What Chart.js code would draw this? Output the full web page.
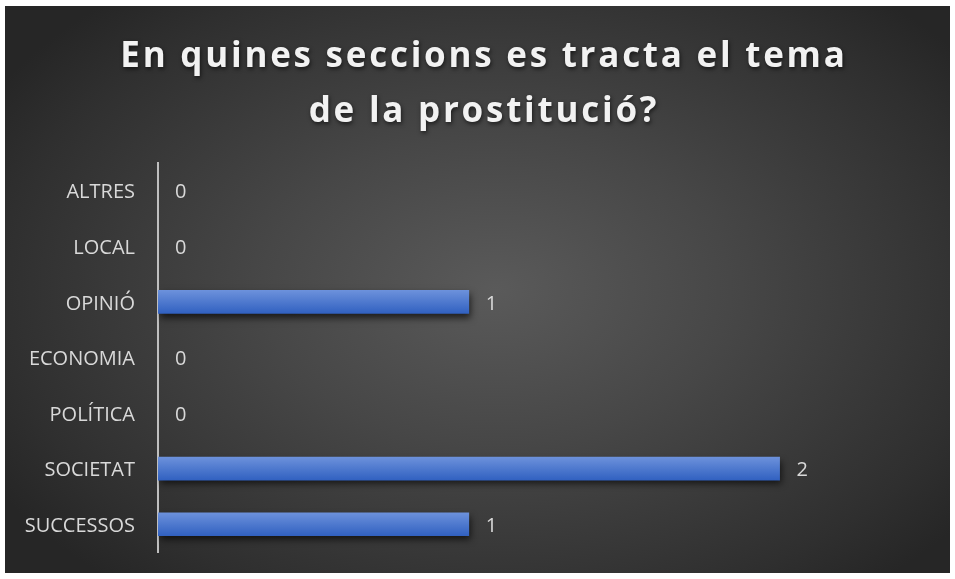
<!DOCTYPE html>
<html>
<head>
<meta charset="utf-8">
<script src="https://cdn.jsdelivr.net/npm/chart.js@4.4.1/dist/chart.umd.min.js"></script>
<style>
  html, body { margin: 0; padding: 0; background: #ffffff; }
  #box {
    position: absolute; left: 5px; top: 6px; width: 945px; height: 567px;
    background: radial-gradient(ellipse 62% 68% at 52% 50%, #5a5a5a 0%, #474747 40%, #2f2f2f 85%, #262626 100%);
  }
  canvas { display: block; }
</style>
</head>
<body>
<div id="box"><canvas id="chart" width="945" height="567"></canvas></div>
<script>
const titleLines = ["En quines seccions es tracta el tema", "de la prostitució?"];
const categories = ["ALTRES", "LOCAL", "OPINIÓ", "ECONOMIA", "POLÍTICA", "SOCIETAT", "SUCCESSOS"];
const values = [0, 0, 1, 0, 0, 2, 1];
const xMax = 2.5;

const labelColor = "#d9d9d9";

// bar shadow
const shadowPlugin = {
  id: "barShadow",
  beforeDatasetsDraw(chart) {
    const ctx = chart.ctx;
    ctx.save();
    ctx.shadowColor = "rgba(0,0,0,0.65)";
    ctx.shadowBlur = 7;
    ctx.shadowOffsetX = 2;
    ctx.shadowOffsetY = 4;
  },
  afterDatasetsDraw(chart) {
    chart.ctx.restore();
  }
};

// value labels next to bars
const valueLabels = {
  id: "valueLabels",
  afterDatasetsDraw(chart) {
    const ctx = chart.ctx;
    const meta = chart.getDatasetMeta(0);
    ctx.save();
    ctx.font = "20px 'Open Sans'";
    ctx.fillStyle = labelColor;
    ctx.textAlign = "left";
    ctx.textBaseline = "middle";
    meta.data.forEach((bar, i) => {
      ctx.fillText(String(values[i]), bar.x + 17, bar.y + 2);
    });
    ctx.restore();
  }
};

// title with letter spacing
const spacedTitle = {
  id: "spacedTitle",
  afterDraw(chart) {
    const ctx = chart.ctx;
    ctx.save();
    ctx.font = "bold 35px 'Open Sans'";
    ctx.letterSpacing = "2.75px";
    ctx.textAlign = "center";
    ctx.textBaseline = "alphabetic";
    ctx.fillStyle = "#f2f2f2";
    ctx.shadowColor = "rgba(0,0,0,0.6)";
    ctx.shadowBlur = 4;
    ctx.shadowOffsetX = 1;
    ctx.shadowOffsetY = 2;
    ctx.fillText(titleLines[0], 479, 61);
    ctx.fillText(titleLines[1], 479, 116);
    ctx.restore();
  }
};

const chart = new Chart(document.getElementById("chart"), {
  type: "bar",
  data: {
    labels: categories,
    datasets: [{
      data: values,
      backgroundColor: (c) => {
        const y = c.chart.scales.y;
        if (c.raw === 0) return "rgba(0,0,0,0)";
        if (!y || c.dataIndex === undefined) return "#4472c4";
        const cy = y.getPixelForValue(c.dataIndex);
        if (!isFinite(cy)) return "#4472c4";
        const g = c.chart.ctx.createLinearGradient(0, cy - 12, 0, cy + 12);
        g.addColorStop(0, "#6d92dc");
        g.addColorStop(1, "#3060c0");
        return g;
      },
      borderWidth: 0,
      barThickness: 23
    }]
  },
  options: {
    indexAxis: "y",
    responsive: false,
    animation: false,
    layout: { padding: { top: 157, bottom: 21, right: 15, left: 0 } },
    plugins: {
      legend: { display: false },
      title: { display: false },
      tooltip: { enabled: false }
    },
    scales: {
      x: { display: false, min: 0, max: xMax },
      y: {
        afterFit(s) {
          s.width = 153;
          s.paddingTop = 0;
          s.paddingBottom = 0;
        },
        grid: { display: false, drawTicks: false },
        border: { display: true, color: "#bfbfbf", width: 2 },
        ticks: {
          color: labelColor,
          padding: 23,
          labelOffset: 2,
          font: { family: "'Open Sans'", size: 20 }
        }
      }
    }
  },
  plugins: [shadowPlugin, valueLabels, spacedTitle]
});
chart.update();
</script>
</body>
</html>
